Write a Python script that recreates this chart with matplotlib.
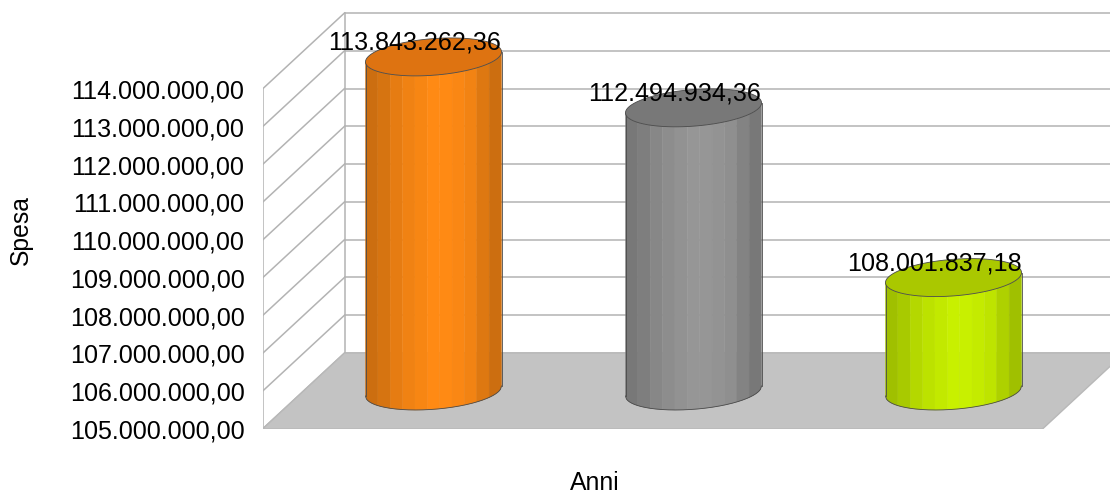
import numpy as np
import matplotlib.pyplot as plt
from matplotlib.patches import Polygon
from matplotlib.colors import to_rgb
from matplotlib.ticker import FuncFormatter

plt.rcParams['font.family'] = ['Liberation Sans', 'DejaVu Sans']

categories = [0, 1, 2]
spesa = [113843262.36, 112494934.36, 108001837.18]
spesa_labels = ['113.843.262,36', '112.494.934,36', '108.001.837,18']
y_ticks = [105e6, 106e6, 107e6, 108e6, 109e6, 110e6, 111e6, 112e6, 113e6, 114e6]

side_colors = ['#ff8a14', '#969696', '#c8f000']
top_colors = ['#de7311', '#787878', '#aac800']

# brightness of the vertical strips around each cylinder
shades = [0.80, 0.84, 0.90, 0.94, 0.97, 1.0, 1.0, 0.98, 0.95, 0.87, 0.80]

W, H = 1110, 492
px_y = 37.78 / 1e6   # pixels per euro
px_x = 260.0         # pixels per category
left, bottom = 262.5, 63

# depth of the box: front plane to back wall
depth_x = 82 / px_x
depth_y = 76 / px_y
base = 105e6
top_val = 114e6

fig = plt.figure(figsize=(W / 100, H / 100), dpi=100)
ax = fig.add_axes([left / W, bottom / H, (W - left) / W, (H - bottom) / H])
ax.set_xlim(-0.5, -0.5 + (W - left) / px_x)
ax.set_ylim(base, base + (H - bottom) / px_y)
for s in ax.spines.values():
    s.set_visible(False)

grid_c = '#b3b3b3'
x0, x1 = -0.5, 2.5

# floor
ax.add_patch(Polygon([(x0, base), (x1, base), (x1 + depth_x, base + depth_y), (x0 + depth_x, base + depth_y)],
                     facecolor='#c3c3c3', edgecolor='#b8b8b8', lw=1, zorder=1))

# back wall and side wall grid
for v in y_ticks:
    ax.plot([x0 + depth_x, x1 + depth_x], [v + depth_y, v + depth_y], color=grid_c, lw=1.1, zorder=0.5)
    ax.plot([x0, x0 + depth_x], [v, v + depth_y], color=grid_c, lw=1.1, zorder=0.5)
ax.plot([x0, x0], [base, top_val], color=grid_c, lw=1.1, zorder=0.5)
ax.plot([x0 + depth_x] * 2, [base + depth_y, top_val + depth_y], color=grid_c, lw=1.1, zorder=0.5)

# cylinders
rx = 68 / px_x
ry = 18.3 / px_y
skew = 5 / px_y
t = np.linspace(0, 2 * np.pi, 200)
edge_c = '#4a4a4a'


def front_curve(xs):
    # lower half of the tilted rim, left end sits below the right end
    ang = np.arccos(np.clip(xs / rx, -1, 1))
    return -ry * np.sin(ang) + skew * xs / rx


for cat, val, side, topc, lab in zip(categories, spesa, side_colors, top_colors, spesa_labels):
    cx = cat + depth_x / 2
    cy0 = base + depth_y / 2
    cy1 = val + depth_y / 2
    rgb = np.array(to_rgb(side))
    # front half of the wall, split into vertical strips
    edges = np.linspace(-rx, rx, len(shades) + 1)
    for i, sh in enumerate(shades):
        xs = np.linspace(edges[i], edges[i + 1], 12)
        low = front_curve(xs)
        verts = list(zip(cx + xs, cy0 + low)) + list(zip(cx + xs[::-1], cy1 + low[::-1]))
        ax.add_patch(Polygon(verts, facecolor=rgb * sh, edgecolor=rgb * sh, lw=0.3, zorder=2))
    xs = np.linspace(-rx, rx, 150)
    ax.plot(cx + xs, cy0 + front_curve(xs), color=edge_c, lw=0.6, zorder=3)
    ax.plot([cx - rx, cx - rx], [cy0 - skew, cy1 - skew], color=edge_c, lw=0.6, zorder=3)
    ax.plot([cx + rx, cx + rx], [cy0 + skew, cy1 + skew], color=edge_c, lw=0.6, zorder=3)
    ax.fill(cx + rx * np.cos(t), cy1 + ry * np.sin(t) + skew * np.cos(t),
            facecolor=topc, edgecolor=edge_c, lw=0.6, zorder=4)
    ax.text(cx - 19 / px_x, cy1 + 14 / px_y, lab, ha='center', va='center', fontsize=18.1, color='black', zorder=5)

ax.set_xticks([])
ax.set_yticks(y_ticks)
ax.yaxis.set_major_formatter(FuncFormatter(lambda v, _: f'{v:,.2f}'.replace(',', 'X').replace('.', ',').replace('X', '.')))
ax.tick_params(axis='y', length=0, pad=13, labelsize=18.1, labelcolor='black')

ax.set_ylabel('Spesa', fontsize=17.8)
ax.yaxis.set_label_coords((21 - left) / (W - left), (H - 230 - bottom) / (H - bottom))
ax.set_xlabel('Anni', fontsize=17.8)
ax.xaxis.set_label_coords((595 - left) / (W - left), (H - 483 - bottom) / (H - bottom))
ax.xaxis.label.set_verticalalignment('center')
ax.yaxis.label.set_verticalalignment('center')

fig.savefig('out.png', dpi=100)
